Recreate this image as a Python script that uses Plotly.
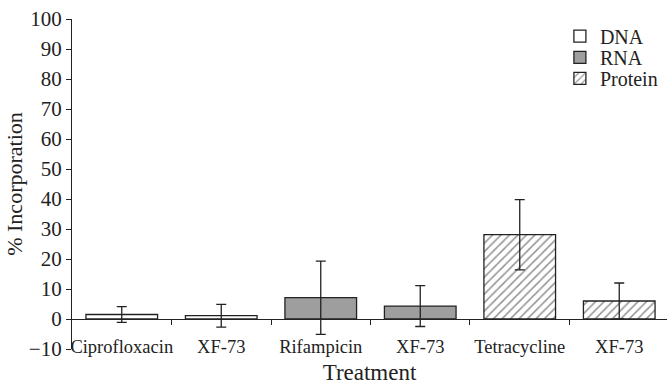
import plotly.graph_objects as go

categories = ["Ciprofloxacin", "XF-73", "Rifampicin", "XF-73", "Tetracycline", "XF-73"]
series_names = ["DNA", "RNA", "Protein"]
dna_values = [1.5, 1.1]
dna_errors = [2.6, 3.8]
rna_values = [7.1, 4.3]
rna_errors = [12.2, 6.8]
protein_values = [28.1, 6.0]
protein_errors = [11.7, 6.0]
y_ticks = [-10, 0, 10, 20, 30, 40, 50, 60, 70, 80, 90, 100]

FONT = "Liberation Serif"
INK = "#222"
pos = list(range(len(categories)))

err_style = dict(type="data", visible=True, color=INK, thickness=1.3, width=5)

fig = go.Figure()
fig.add_trace(go.Bar(
    x=pos[0:2], y=dna_values, name=series_names[0], width=0.72, legend="legend",
    marker=dict(color="white", line=dict(color=INK, width=1.3)),
    error_y=dict(array=dna_errors, **err_style)))
fig.add_trace(go.Bar(
    x=pos[2:4], y=rna_values, name=series_names[1], width=0.72, legend="legend2",
    marker=dict(color="#9e9e9e", line=dict(color=INK, width=1.3)),
    error_y=dict(array=rna_errors, **err_style)))
fig.add_trace(go.Bar(
    x=pos[4:6], y=protein_values, name=series_names[2], width=0.72, legend="legend3",
    marker=dict(color="white", line=dict(color=INK, width=1.3),
                pattern=dict(shape="/", fgcolor=INK, bgcolor="white", size=6, solidity=0.25)),
    error_y=dict(array=protein_errors, **err_style)))
# invisible trace carrying the zero-line axis with boundary ticks
fig.add_trace(go.Scatter(x=[0], y=[None], xaxis="x2", showlegend=False, hoverinfo="skip"))

leg_common = dict(x=0.820, xanchor="left", yanchor="middle",
                  font=dict(family=FONT, size=20, color=INK),
                  bgcolor="rgba(0,0,0,0)", itemwidth=30, borderwidth=0)

fig.update_layout(
    width=667, height=385,
    margin=dict(l=72, r=0, t=19, b=36, autoexpand=False),
    plot_bgcolor="white", paper_bgcolor="white",
    barmode="overlay",
    font=dict(family=FONT, size=19, color=INK),
    showlegend=True,
    legend=dict(y=0.948, **leg_common),
    legend2=dict(y=0.884, **leg_common),
    legend3=dict(y=0.820, **leg_common),
    xaxis=dict(range=[-0.5, 5.48], tickvals=pos, ticktext=categories,
               showline=False, showgrid=False, zeroline=False, ticks="",
               ticklabelstandoff=-16,
               tickfont=dict(family=FONT, size=18.5, color=INK),
               title=dict(text="Treatment", font=dict(family=FONT, size=23, color=INK), standoff=9)),
    xaxis2=dict(range=[-0.5, 5.48], overlaying="x", anchor="free", position=10/110, side="bottom",
                tickvals=[0.5, 1.5, 2.5, 3.5, 4.5], showticklabels=False,
                ticks="outside", ticklen=5, tickwidth=1.3, tickcolor=INK,
                showline=True, linecolor=INK, linewidth=1.3, showgrid=False, zeroline=False),
    yaxis=dict(range=[-10, 100], tickvals=y_ticks, ticktext=["\u221210"] + [str(v) for v in y_ticks[1:]],
               showline=True, linecolor=INK, linewidth=1.3,
               ticks="outside", ticklen=5, tickwidth=1.3, tickcolor=INK,
               showgrid=False, zeroline=False,
               tickfont=dict(family=FONT, size=21, color=INK),
               title=dict(text="% Incorporation", font=dict(family=FONT, size=22, color=INK), standoff=0)),
)

fig.write_html("out.html")
